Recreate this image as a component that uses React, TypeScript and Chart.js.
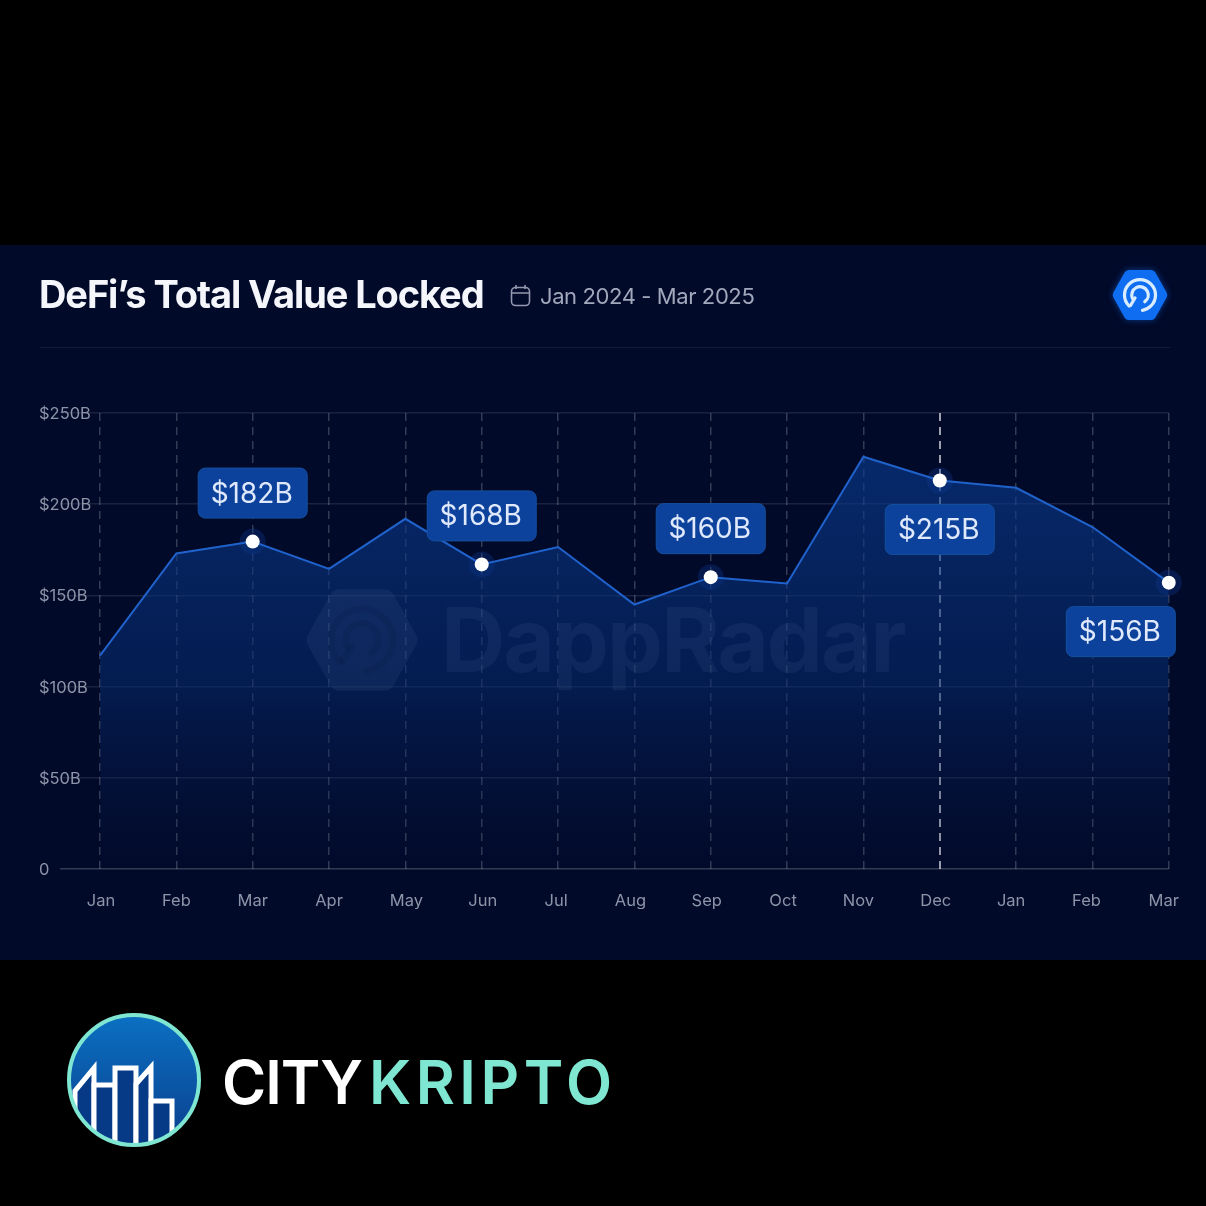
import React, { useEffect, useRef } from "react";
import { Chart, registerables } from "chart.js";

Chart.register(...registerables);

const months = ["Jan", "Feb", "Mar", "Apr", "May", "Jun", "Jul", "Aug", "Sep", "Oct", "Nov", "Dec", "Jan", "Feb", "Mar"];
const tvl = [117, 173, 179.5, 164.5, 192, 167, 176.5, 145, 160, 156.5, 226, 213, 209, 187.5, 157];
const yTicks = [0, 50, 100, 150, 200, 250];
const calloutIndexes = [2, 5, 8, 11, 14];
const calloutTexts = ["$182B", "$168B", "$160B", "$215B", "$156B"];
const calloutBelow = [false, false, false, true, true];
const calloutShift = [0, 0, 0, 0, -48];
const labelShift = [1, 0, 0, 0, 1, 1, -2, -4, -4, -4, -5, -4, -5, -6, -5];
const highlightedMonth = 11;

const FONT = "Inter, 'Noto Sans', sans-serif";

function roundRect(ctx: CanvasRenderingContext2D, x: number, y: number, w: number, h: number, r: number) {
  ctx.beginPath();
  ctx.roundRect(x, y, w, h, r);
}

function hexagon(ctx: CanvasRenderingContext2D, cx: number, cy: number, r: number, corner: number) {
  const pts: number[][] = [];
  for (let i = 0; i < 6; i++) {
    const a = (Math.PI / 3) * i;
    pts.push([cx + r * Math.cos(a), cy + r * Math.sin(a) * 1.03]);
  }
  const startX = (pts[5][0] + pts[0][0]) / 2;
  const startY = (pts[5][1] + pts[0][1]) / 2;
  ctx.beginPath();
  ctx.moveTo(startX, startY);
  for (let i = 0; i < 6; i++) {
    const p = pts[i];
    const n = pts[(i + 1) % 6];
    ctx.arcTo(p[0], p[1], n[0], n[1], corner);
  }
  ctx.closePath();
}

function radarGlyph(ctx: CanvasRenderingContext2D, cx: number, cy: number, s: number, color: string) {
  ctx.save();
  ctx.strokeStyle = color;
  ctx.lineCap = "round";
  ctx.lineWidth = s * 0.13;
  ctx.beginPath();
  ctx.arc(cx, cy, s * 0.62, Math.PI * 0.75, Math.PI * 2.45);
  ctx.stroke();
  ctx.beginPath();
  ctx.arc(cx, cy, s * 0.33, Math.PI * 0.85, Math.PI * 2.3);
  ctx.stroke();
  ctx.beginPath();
  ctx.moveTo(cx - s * 0.38, cy + s * 0.42);
  ctx.lineTo(cx - s * 0.2, cy + s * 0.12);
  ctx.stroke();
  ctx.restore();
}

function drawBrand(ctx: CanvasRenderingContext2D) {
  const cx = 134, cy = 1080, r = 65;
  ctx.save();
  ctx.beginPath();
  ctx.arc(cx, cy, r, 0, Math.PI * 2);
  ctx.clip();
  const g = ctx.createLinearGradient(0, cy - r, 0, cy + r);
  g.addColorStop(0, "#0b70c2");
  g.addColorStop(1, "#0b3f8e");
  ctx.fillStyle = g;
  ctx.fillRect(cx - r, cy - r, r * 2, r * 2);
  const blocks: number[][][] = [
    [[75, 1150], [75, 1091], [94, 1068], [94, 1150]],
    [[94, 1150], [94, 1085], [115, 1085], [115, 1150]],
    [[115, 1150], [115, 1068], [136, 1068], [136, 1150]],
    [[136, 1150], [136, 1084], [151, 1067], [151, 1150]],
    [[151, 1150], [151, 1101], [172, 1101], [172, 1150]],
  ];
  ctx.fillStyle = "#063a86";
  ctx.strokeStyle = "#ffffff";
  ctx.lineWidth = 5;
  ctx.lineJoin = "miter";
  for (const b of blocks) {
    ctx.beginPath();
    b.forEach((p, i) => (i ? ctx.lineTo(p[0], p[1]) : ctx.moveTo(p[0], p[1])));
    ctx.closePath();
    ctx.fill();
    ctx.stroke();
  }
  ctx.restore();
  ctx.beginPath();
  ctx.arc(cx, cy, r, 0, Math.PI * 2);
  ctx.strokeStyle = "#7fe6d2";
  ctx.lineWidth = 4;
  ctx.stroke();

  ctx.textAlign = "left";
  ctx.textBaseline = "alphabetic";
  ctx.font = `600 60px ${FONT}`;
  (ctx as any).letterSpacing = "-1px";
  ctx.fillStyle = "#ffffff";
  ctx.fillText("CITY", 222, 1104);
  (ctx as any).letterSpacing = "4.5px";
  ctx.fillStyle = "#7fe6d2";
  ctx.fillText("KRIPTO", 369, 1104);
  (ctx as any).letterSpacing = "0px";
}

const chrome = {
  id: "chrome",
  beforeDraw(chart: any) {
    const ctx: CanvasRenderingContext2D = chart.ctx;
    ctx.save();
    ctx.fillStyle = "#000000";
    ctx.fillRect(0, 0, chart.width, chart.height);
    ctx.fillStyle = "#020a2a";
    ctx.fillRect(0, 245, chart.width, 715);

    ctx.textBaseline = "middle";
    ctx.textAlign = "left";
    ctx.fillStyle = "#f4f6fb";
    ctx.font = `700 38px ${FONT}`;
    (ctx as any).letterSpacing = "-1.1px";
    ctx.fillText("DeFi\u2019s Total Value Locked", 39, 297);
    (ctx as any).letterSpacing = "0px";

    ctx.strokeStyle = "#9298ad";
    ctx.lineWidth = 1.6;
    roundRect(ctx, 511.5, 287.5, 18, 18, 4);
    ctx.stroke();
    ctx.beginPath();
    ctx.moveTo(511.5, 293);
    ctx.lineTo(529.5, 293);
    ctx.moveTo(516, 285);
    ctx.lineTo(516, 289);
    ctx.moveTo(525, 285);
    ctx.lineTo(525, 289);
    ctx.stroke();
    ctx.fillStyle = "#a2a8bb";
    ctx.font = `400 22px ${FONT}`;
    (ctx as any).letterSpacing = "-0.4px";
    ctx.fillText("Jan 2024 - Mar 2025", 540, 297);
    (ctx as any).letterSpacing = "0px";

    ctx.strokeStyle = "rgba(255,255,255,0.07)";
    ctx.lineWidth = 1;
    ctx.beginPath();
    ctx.moveTo(40, 347.5);
    ctx.lineTo(1170, 347.5);
    ctx.stroke();

    hexagon(ctx, 1140, 295, 28, 5);
    ctx.fillStyle = "#0f6df2";
    ctx.shadowColor = "rgba(15,109,242,0.5)";
    ctx.shadowBlur = 6;
    ctx.fill();
    ctx.shadowBlur = 0;
    radarGlyph(ctx, 1140, 295, 25, "#d9ecff");

    drawBrand(ctx);
    ctx.restore();

    chart.scales.x.getLabelItems().forEach((item: any, i: number) => {
      if (item.options.translation && !item.__shifted) {
        item.options.translation[0] += labelShift[i] ?? 0;
        item.__shifted = true;
      }
    });
    chart.scales.y.getLabelItems().forEach((item: any) => {
      if (item.options.translation && !item.__shifted) {
        item.options.translation[1] += 1;
        item.__shifted = true;
      }
    });
  },
  afterDatasetsDraw(chart: any) {
    const ctx: CanvasRenderingContext2D = chart.ctx;
    ctx.save();
    // watermark
    ctx.globalAlpha = 0.07;
    hexagon(ctx, 362, 640, 57, 10);
    ctx.fillStyle = "#9fb4e0";
    ctx.fill();
    ctx.globalAlpha = 0.12;
    radarGlyph(ctx, 362, 640, 50, "#02102f");
    ctx.globalAlpha = 0.07;
    ctx.fillStyle = "#9fb4e0";
    ctx.font = `700 89px ${FONT}`;
    ctx.textAlign = "left";
    ctx.textBaseline = "middle";
    (ctx as any).letterSpacing = "-2px";
    ctx.fillText("DappRadar", 441, 645);
    (ctx as any).letterSpacing = "0px";
    ctx.globalAlpha = 1;

    const meta = chart.getDatasetMeta(0);
    calloutIndexes.forEach((idx, i) => {
      const pt = meta.data[idx];
      const cx = pt.x + calloutShift[i];
      const cy = pt.y + (calloutBelow[i] ? 49 : -48.5);
      roundRect(ctx, cx - 54.5, cy - 25, 109, 50, 7);
      ctx.fillStyle = "#0c429c";
      ctx.fill();
      ctx.strokeStyle = "#14509f";
      ctx.lineWidth = 1;
      ctx.stroke();
      ctx.fillStyle = "#dfe9fb";
      ctx.font = `400 28px ${FONT}`;
      ctx.textAlign = "center";
      ctx.textBaseline = "middle";
      ctx.fillText(calloutTexts[i], cx - 1, cy + 1);
    });
    ctx.restore();
  },
};

export default function App() {
  const ref = useRef<HTMLCanvasElement>(null);
  useEffect(() => {
    document.body.style.margin = "0";
    document.body.style.background = "#000";
    const chart = new Chart(ref.current!, {
      type: "line",
      data: {
        labels: months,
        datasets: [
          {
            data: tvl,
            borderColor: "#2062cc",
            borderWidth: 2,
            tension: 0,
            fill: "origin",
            backgroundColor: (c: any) => {
              const a = c.chart.chartArea;
              if (!a) return "transparent";
              const g = c.chart.ctx.createLinearGradient(0, a.top + 40, 0, a.bottom);
              g.addColorStop(0, "rgba(10,62,150,0.6)");
              g.addColorStop(0.55, "rgba(6,44,112,0.55)");
              g.addColorStop(1, "rgba(4,26,80,0.02)");
              return g;
            },
            pointRadius: (c: any) => (calloutIndexes.includes(c.dataIndex) ? 7 : 0),
            pointHoverRadius: 0,
            pointBackgroundColor: "#ffffff",
            pointBorderWidth: 0,
          } as any,
          {
            data: tvl,
            showLine: false,
            fill: false,
            pointRadius: (c: any) => (calloutIndexes.includes(c.dataIndex) ? 13 : 0),
            pointHoverRadius: 0,
            pointBackgroundColor: "rgba(14,58,150,0.32)",
            pointBorderWidth: 0,
          } as any,
        ],
      },
      options: {
        animation: false,
        responsive: false,
        layout: { padding: { left: 39, right: 37, top: 413, bottom: 297 } },
        plugins: { legend: { display: false }, tooltip: { enabled: false } },
        scales: {
          x: {
            afterFit: (s: any) => {
              s.height = 40;
            },
            border: { display: false, dash: [8, 6] },
            grid: {
              drawTicks: false,
              color: (c: any) => (c.index === highlightedMonth ? "rgba(255,255,255,0.62)" : "rgba(255,255,255,0.2)"),
              lineWidth: (c: any) => (c.index === highlightedMonth ? 2 : 1.5),
            },
            ticks: {
              autoSkip: false,
              maxRotation: 0,
              padding: 22,
              color: "#8e94a8",
              font: { family: FONT, size: 16.5 },
            },
          },
          y: {
            min: 0,
            max: 250,
            afterFit: (s: any) => {
              s.width = 61;
            },
            afterBuildTicks: (s: any) => {
              s.ticks = yTicks.map((value) => ({ value }));
            },
            border: { display: false },
            grid: {
              color: (c: any) => (c.tick && c.tick.value === 0 ? "rgba(255,255,255,0.2)" : "rgba(255,255,255,0.1)"),
              tickLength: 40,
              lineWidth: 1.5,
            },
            ticks: {
              crossAlign: "far",
              padding: 0,
              color: "#8e94a8",
              font: { family: FONT, size: 16.5 },
              callback: (v: any) => (v === 0 ? "0" : `$${v}B`),
            },
          },
        },
      },
      plugins: [chrome],
    } as any);
    return () => chart.destroy();
  }, []);
  return <canvas ref={ref} width={1206} height={1206} style={{ display: "block", width: 1206, height: 1206 }} />;
}
